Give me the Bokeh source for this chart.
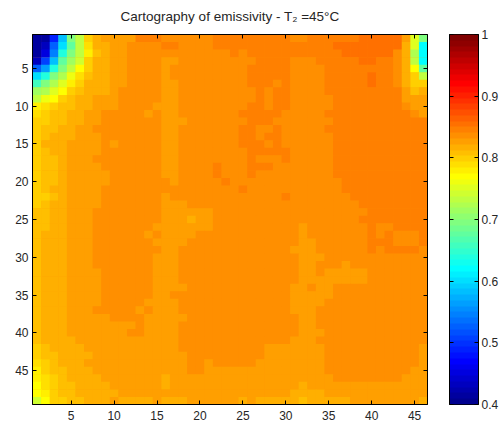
from bokeh.plotting import figure
from bokeh.layouts import row as bk_row
from bokeh.models import LinearColorMapper, FixedTicker, LinearAxis, Range1d, ColumnDataSource
from bokeh.embed import file_html
from bokeh.resources import INLINE
import numpy as np

title_text = "Cartography of emissivity - T\u2082 =45\u00b0C"
x_ticks = [5, 10, 15, 20, 25, 30, 35, 40, 45]
y_ticks = [5, 10, 15, 20, 25, 30, 35, 40, 45]
cbar_ticks = [0.4, 0.5, 0.6, 0.7, 0.8, 0.9, 1.0]
cbar_labels = {0.4: "0.4", 0.5: "0.5", 0.6: "0.6", 0.7: "0.7", 0.8: "0.8", 0.9: "0.9", 1.0: "1"}
v_min, v_max = 0.4, 1.0

# Colour-map level read for each cell (one char per cell, groups of five for legibility)
code_levels = {"a": 2, "b": 4, "c": 6, "d": 8, "e": 10, "f": 12, "g": 14, "h": 16, "i": 18, "j": 20,
               "k": 22, "l": 24, "m": 26, "n": 28, "o": 30, "p": 32, "q": 34, "r": 35, "s": 36, "t": 37,
               "u": 38, "v": 39, "0": 40, "1": 41, "2": 42, "3": 43, "4": 44, "5": 45, "6": 46, "7": 47,
               "8": 48, "9": 49}
rows = [
 "aaejp s3566 66888 77777 78888 88888 77888 88899 9996u p",
 "abgko s2556 67777 88777 78888 88888 88888 99999 9995u l",
 "achmp s1456 67777 77777 77787 88888 88888 89999 9975r l",
 "bfjoq t3556 67777 66777 77777 78888 77788 88899 8875s l",
 "gimps 03556 67777 67777 77777 88888 77778 88888 88750 o",
 "kmprv 24556 67777 67777 77777 88888 77778 88889 88753 s",
 "npru1 35556 67777 66777 77777 88878 77778 88889 88753 3",
 "qru03 45556 77777 66777 77777 78788 77778 88888 88864 5",
 "sv034 55666 77777 66777 77777 78788 77777 88888 88866 6",
 "12344 55666 77776 66777 77777 88788 77777 88888 88876 6",
 "23445 56677 77767 66777 77778 88887 77778 88888 88887 6",
 "33445 56677 77777 66677 77777 88877 77777 88888 88888 8",
 "34455 66777 77777 66777 77778 87787 77778 88888 88888 8",
 "34555 66677 77777 66777 77778 87887 77777 88888 88888 8",
 "35556 66676 77777 66777 77778 88787 77777 88888 88888 8",
 "34556 66677 77777 66777 77777 88888 77777 88888 88888 8",
 "34456 66777 77777 66777 77777 87778 77777 88888 88888 8",
 "34456 66677 77777 66777 78777 88877 77777 88888 88888 8",
 "34456 66667 77777 66777 78777 87777 77777 88888 88888 8",
 "34456 66667 77777 76777 77877 77777 77777 78888 88888 8",
 "34556 66677 77777 77777 77778 77777 77777 78888 88888 8",
 "33456 66677 77777 67777 77777 77778 77777 77888 88888 8",
 "34556 66677 77777 66677 77777 77777 77777 77788 88888 8",
 "44556 66777 77777 66666 67777 77777 77777 77778 88888 8",
 "44556 66777 77777 66656 67777 77777 77777 77788 88888 8",
 "44556 66777 77776 66666 67777 77777 76777 77778 77888 8",
 "45556 66777 77767 66667 77777 77777 76777 77778 78777 8",
 "45556 66777 77776 66677 77777 77777 76677 77778 88777 8",
 "45556 66777 77777 66777 77777 77777 66677 77778 78888 7",
 "45556 66777 77776 66777 77777 77777 76667 77777 77777 7",
 "45556 66777 77776 66777 77777 77777 76677 76777 77777 7",
 "45556 66677 77776 66777 77777 77777 76676 66667 77777 7",
 "45556 66677 77776 66777 77777 77777 76666 66667 77777 7",
 "45556 66677 77776 66677 77777 77777 66766 77777 77777 7",
 "45556 66677 77776 67777 77777 77777 66666 77777 77777 7",
 "45556 66677 77766 66777 77777 77777 66667 77777 77777 7",
 "45556 66777 77676 66777 77777 77777 66677 77777 77777 7",
 "45556 66667 77766 66677 77777 77777 76677 77777 77777 7",
 "45556 66666 66766 66777 77777 77777 76677 77777 77777 7",
 "45556 66666 67766 66777 77777 77777 76667 77777 77777 7",
 "45555 66666 66666 66777 77777 77777 66677 77777 77777 7",
 "34555 56666 66666 66777 77777 77666 66667 77777 77777 6",
 "34455 55666 66666 66677 77777 77666 66667 77777 77777 6",
 "23455 56666 66666 66677 67777 76666 66667 77777 77777 6",
 "13445 55666 66666 66677 66666 66666 66667 77777 77776 6",
 "12345 55566 66666 56666 66666 66666 66666 77777 77766 6",
 "02344 55556 66666 56666 66666 66666 65666 66666 66666 6",
 "01344 55555 66666 66666 66666 66666 55556 66666 66666 6",
 "t0334 45556 55556 55566 66665 65555 54555 55666 66666 5",
]


def jet(n):
    out = []
    for k in range(n):
        t = (k + 1) / n
        r = np.clip(min(4 * t - 1.5, -4 * t + 4.5), 0, 1)
        g = np.clip(min(4 * t - 0.5, -4 * t + 3.5), 0, 1)
        b = np.clip(min(4 * t + 0.5, -4 * t + 2.5), 0, 1)
        out.append("#%02x%02x%02x" % (round(r * 255), round(g * 255), round(b * 255)))
    return out


table = []
for row in rows:
    cells = row.replace(" ", "")
    assert len(cells) == 46, row
    table.append([v_min + (v_max - v_min) * (code_levels[c] - 0.5) / 64 for c in cells])
z = np.array(table)
ny, nx = z.shape

mapper = LinearColorMapper(palette=jet(64), low=v_min, high=v_max)
FONT = "Liberation Sans"


def style(ax, ticks):
    ax.ticker = FixedTicker(ticks=ticks)
    ax.major_tick_in = 4
    ax.major_tick_out = 0
    ax.minor_tick_line_color = None
    ax.axis_line_color = "black"
    ax.major_tick_line_color = "black"
    ax.major_label_text_font = FONT
    ax.major_label_text_font_size = "12px"
    ax.major_label_text_color = "#262626"


def mute(ticks):
    return LinearAxis(ticker=FixedTicker(ticks=ticks), major_tick_in=4, major_tick_out=0,
                      minor_tick_line_color=None, major_label_overrides={t: "" for t in ticks},
                      major_label_standoff=0)


p = figure(frame_width=395, frame_height=370, output_backend="svg", toolbar_location=None,
           x_range=Range1d(0.5, nx + 0.5), y_range=Range1d(ny + 0.5, 0.5),
           min_border_left=32, min_border_right=22, min_border_top=34, min_border_bottom=22,
           tools="", outline_line_color="black", background_fill_color="#ff9000")
xx, yy = np.meshgrid(np.arange(1, nx + 1), np.arange(1, ny + 1))
src = ColumnDataSource(dict(x=xx.ravel(), y=yy.ravel(), v=z.ravel()))
p.rect("x", "y", 1, 1, source=src, dilate=True, line_color=None,
       fill_color={"field": "v", "transform": mapper})

p.title.text = title_text
p.title.align = "center"
p.title.vertical_align = "top"
p.title.text_font = FONT
p.title.text_font_size = "13.5px"
p.title.text_font_style = "normal"
p.title.text_color = "#262626"
p.title.standoff = 17

style(p.xaxis[0], x_ticks)
style(p.yaxis[0], y_ticks)
p.xaxis[0].major_label_standoff = 6
p.yaxis[0].major_label_standoff = 4
p.grid.visible = False
p.add_layout(mute(x_ticks), "above")
p.add_layout(mute(y_ticks), "right")

# colour bar as its own small figure, drawn from the same colour levels
bar_levels = np.array([[v_min + (v_max - v_min) * (i + 0.5) / 64] for i in range(64)])
c = figure(frame_width=29, frame_height=370, output_backend="svg", toolbar_location=None,
           x_range=Range1d(0, 1), y_range=Range1d(v_min, v_max),
           min_border_left=0, min_border_right=0, min_border_top=34, min_border_bottom=22,
           tools="", outline_line_color="black", y_axis_location="right")
c.image(image=[bar_levels], x=0, y=v_min, dw=1, dh=v_max - v_min, color_mapper=mapper)
c.xaxis.visible = False
c.grid.visible = False
style(c.yaxis[0], cbar_ticks)
c.yaxis[0].major_label_overrides = cbar_labels
c.yaxis[0].major_label_standoff = 3
c.add_layout(mute(cbar_ticks), "left")

open("out.html", "w").write(file_html(bk_row(p, c, spacing=0), INLINE))
